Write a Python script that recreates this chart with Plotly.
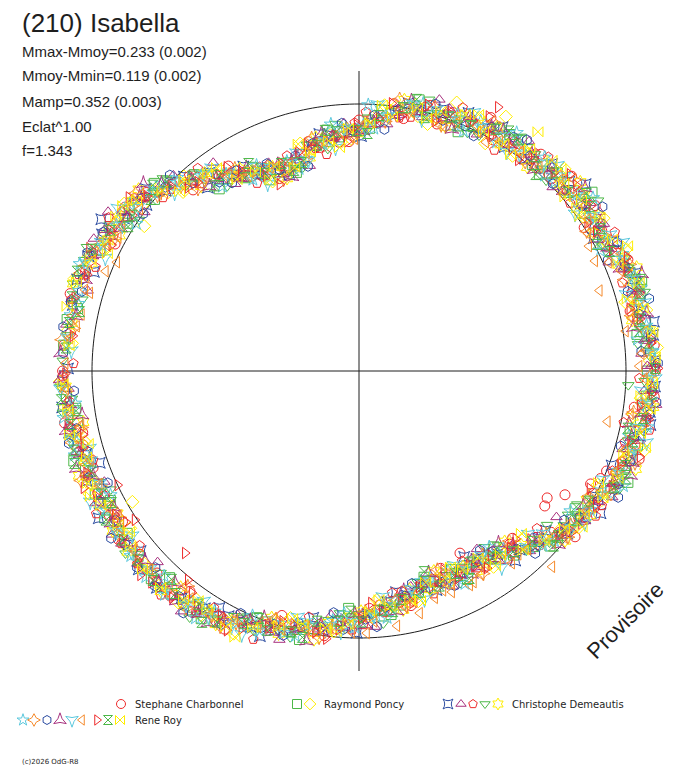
import plotly.graph_objects as go

# rotation phase (deg) and relative flux (1 = mean level, the thin circle)
# the *_b lists hold the further points of the same symbol

charbonnel_o_theta = [0, 10, 20, 30, 40, 50, 60, 70, 80, 90,
                      100, 110, 120, 130, 140, 150, 160, 170, 180, 190,
                      200, 210, 220, 230, 240, 250, 260, 270, 280, 290,
                      300, 310, 320, 330, 340, 350,
                      326, 329, 324, 299, 334, 336, 338, 311,
                      5, 15, 25, 35, 45, 55, 65, 75, 85, 95,
                      105, 115, 125, 135, 145, 155, 165, 175, 185, 195,
                      205, 215, 225, 235, 245, 255, 265, 275, 285, 295,
                      305, 315, 325, 335, 345, 355]
charbonnel_o_r = [1.11, 1.06, 1.08, 1.05, 1.04, 1.06, 1.00, 1.03, 0.96, 0.94,
                  0.85, 0.80, 0.86, 0.92, 1.04, 1.07, 1.09, 1.14, 1.11, 1.12,
                  1.06, 1.08, 1.07, 1.10, 1.06, 1.01, 0.99, 0.92, 0.88, 0.83,
                  0.84, 0.89, 0.94, 1.02, 1.05, 1.09,
                  0.85, 0.90, 0.86, 0.78, 0.965, 0.99, 1.00, 0.86,
                  1.11, 1.06, 1.06, 1.08, 1.02, 1.04, 1.01, 1.03, 0.96, 0.86,
                  0.84, 0.84, 0.88, 0.99, 1.07, 1.07, 1.12, 1.11, 1.14, 1.07,
                  1.08, 1.10, 1.07, 1.10, 1.04, 1.01, 0.97, 0.88, 0.85, 0.85,
                  0.84, 0.93, 0.97, 1.04, 1.07, 1.11]
charbonnel_o_theta_b = [2.5, 12.5, 22.5, 32.5, 42.5, 52.5, 62.5, 72.5, 82.5, 92.5,
                        102.5, 112.5, 122.5, 132.5, 142.5, 152.5, 162.5, 172.5, 182.5, 192.5,
                        202.5, 212.5, 222.5, 232.5, 242.5, 252.5, 262.5, 272.5, 282.5, 292.5,
                        302.5, 312.5, 322.5, 332.5, 342.5, 352.5]
charbonnel_o_r_b = [1.13, 1.04, 1.09, 1.00, 1.08, 1.00, 1.07, 0.97, 1.01, 0.86,
                    0.88, 0.78, 0.91, 0.92, 1.06, 1.03, 1.15, 1.09, 1.15, 1.06,
                    1.13, 1.05, 1.13, 1.04, 1.09, 0.96, 1.00, 0.89, 0.90, 0.80,
                    0.87, 0.85, 1.02, 0.99, 1.10, 1.04]

poncy_sq_theta = [5, 15, 25, 35, 45, 55, 65, 75, 85, 95,
                  105, 115, 125, 135, 145, 155, 165, 175, 185, 195,
                  205, 215, 225, 235, 245, 255, 265, 275, 285, 295,
                  305, 315, 325, 335, 345, 355,
                  0, 10, 20, 30, 40, 50, 60, 70, 80, 90,
                  100, 110, 120, 130, 140, 150, 160, 170, 180, 190,
                  200, 210, 220, 230, 240, 250, 260, 270, 280, 290,
                  300, 310, 320, 330, 340, 350]
poncy_sq_r = [1.08, 1.09, 1.06, 1.03, 1.05, 1.06, 1.01, 0.99, 0.98, 0.88,
              0.84, 0.79, 0.88, 1.00, 1.05, 1.07, 1.13, 1.11, 1.10, 1.09,
              1.09, 1.06, 1.10, 1.08, 1.03, 1.01, 0.94, 0.90, 0.86, 0.82,
              0.86, 0.93, 0.97, 1.04, 1.08, 1.08,
              1.08, 1.09, 1.08, 1.04, 1.05, 1.01, 1.05, 1.01, 1.00, 0.90,
              0.87, 0.81, 0.84, 0.96, 1.00, 1.08, 1.10, 1.11, 1.14, 1.07,
              1.09, 1.10, 1.08, 1.09, 1.08, 1.00, 0.98, 0.92, 0.89, 0.84,
              0.83, 0.90, 0.97, 0.99, 1.06, 1.07]
poncy_sq_theta_b = [7.5, 17.5, 27.5, 37.5, 47.5, 57.5, 67.5, 77.5, 87.5, 97.5,
                    107.5, 117.5, 127.5, 137.5, 147.5, 157.5, 167.5, 177.5, 187.5, 197.5,
                    207.5, 217.5, 227.5, 237.5, 247.5, 257.5, 267.5, 277.5, 287.5, 297.5,
                    307.5, 317.5, 327.5, 337.5, 347.5, 357.5]
poncy_sq_r_b = [1.05, 1.11, 1.03, 1.10, 1.00, 1.05, 0.97, 1.04, 0.91, 0.91,
                0.78, 0.86, 0.86, 1.04, 1.03, 1.14, 1.08, 1.15, 1.07, 1.12,
                1.05, 1.14, 1.05, 1.10, 1.00, 1.03, 0.89, 0.92, 0.81, 0.88,
                0.83, 0.97, 0.96, 1.09, 1.04, 1.13]

poncy_di_theta = [2, 12, 22, 32, 42, 52, 62, 72, 82, 92,
                  102, 112, 122, 132, 142, 152, 162, 172, 182, 192,
                  202, 212, 222, 232, 242, 252, 262, 272, 282, 292,
                  302, 312, 322, 332, 342, 352,
                  240, 210, 146, 61, 70, 60,
                  7, 17, 27, 37, 47, 57, 67, 77, 87, 97,
                  107, 117, 127, 137, 147, 157, 167, 177, 187, 197,
                  207, 217, 227, 237, 247, 257, 267, 277, 287, 297,
                  307, 317, 327, 337, 347, 357]
poncy_di_r = [1.09, 1.10, 1.05, 1.08, 1.02, 1.03, 1.03, 1.00, 1.00, 0.87,
              0.85, 0.81, 0.86, 0.98, 1.02, 1.08, 1.12, 1.10, 1.12, 1.07,
              1.08, 1.09, 1.08, 1.10, 1.06, 0.99, 0.97, 0.92, 0.87, 0.82,
              0.84, 0.90, 0.96, 1.03, 1.05, 1.09,
              1.13, 0.98, 0.97, 0.975, 1.07, 1.10,
              1.10, 1.09, 1.04, 1.05, 1.05, 1.01, 1.04, 0.98, 0.95, 0.89,
              0.81, 0.83, 0.93, 0.98, 1.07, 1.10, 1.10, 1.14, 1.11, 1.07,
              1.10, 1.07, 1.10, 1.09, 1.03, 0.99, 0.96, 0.88, 0.83, 0.85,
              0.88, 0.93, 0.99, 1.05, 1.05, 1.10]
poncy_di_theta_b = [4.5, 14.5, 24.5, 34.5, 44.5, 54.5, 64.5, 74.5, 84.5, 94.5,
                    104.5, 114.5, 124.5, 134.5, 144.5, 154.5, 164.5, 174.5, 184.5, 194.5,
                    204.5, 214.5, 224.5, 234.5, 244.5, 254.5, 264.5, 274.5, 284.5, 294.5,
                    304.5, 314.5, 324.5, 334.5, 344.5, 354.5]
poncy_di_r_b = [1.12, 1.03, 1.10, 1.02, 1.08, 0.99, 1.05, 0.96, 1.00, 0.86,
                0.88, 0.78, 0.91, 0.94, 1.08, 1.06, 1.16, 1.08, 1.15, 1.06,
                1.11, 1.04, 1.14, 1.05, 1.09, 0.96, 0.98, 0.86, 0.89, 0.81,
                0.89, 0.88, 1.01, 0.99, 1.11, 1.06]

demeautis_sqs_theta = [7, 17, 27, 37, 47, 57, 67, 77, 87, 97,
                       107, 117, 127, 137, 147, 157, 167, 177, 187, 197,
                       207, 217, 227, 237, 247, 257, 267, 277, 287, 297,
                       307, 317, 327, 337, 347, 357,
                       2, 12, 22, 32, 42, 52, 62, 72, 82, 92,
                       102, 112, 122, 132, 142, 152, 162, 172, 182, 192,
                       202, 212, 222, 232, 242, 252, 262, 272, 282, 292,
                       302, 312, 322, 332, 342, 352]
demeautis_sqs_r = [1.11, 1.07, 1.07, 1.04, 1.06, 1.00, 1.05, 1.00, 0.93, 0.89,
                   0.80, 0.84, 0.93, 0.99, 1.05, 1.10, 1.10, 1.13, 1.12, 1.07,
                   1.09, 1.08, 1.11, 1.06, 1.04, 0.98, 0.96, 0.87, 0.85, 0.85,
                   0.86, 0.92, 1.01, 1.05, 1.08, 1.11,
                   1.11, 1.08, 1.07, 1.04, 1.06, 1.01, 1.03, 1.03, 0.97, 0.90,
                   0.86, 0.80, 0.87, 0.98, 1.01, 1.09, 1.11, 1.14, 1.11, 1.11,
                   1.10, 1.07, 1.11, 1.08, 1.04, 1.02, 0.98, 0.91, 0.86, 0.86,
                   0.83, 0.90, 0.99, 1.00, 1.07, 1.10]
demeautis_sqs_theta_b = [9.5, 19.5, 29.5, 39.5, 49.5, 59.5, 69.5, 79.5, 89.5, 99.5,
                         109.5, 119.5, 129.5, 139.5, 149.5, 159.5, 169.5, 179.5, 189.5, 199.5,
                         209.5, 219.5, 229.5, 239.5, 249.5, 259.5, 269.5, 279.5, 289.5, 299.5,
                         309.5, 319.5, 329.5, 339.5, 349.5, 359.5]
demeautis_sqs_r_b = [1.12, 1.10, 1.01, 1.10, 1.01, 1.06, 0.98, 1.02, 0.88, 0.90,
                     0.78, 0.88, 0.89, 1.05, 1.12, 1.06, 1.15, 1.09, 1.14, 1.03,
                     1.12, 1.06, 1.14, 1.03, 1.06, 0.94, 0.98, 0.84, 0.87, 0.80,
                     0.92, 0.92, 1.05, 1.01, 1.11, 1.14]

demeautis_tru_theta = [1, 11, 21, 31, 41, 51, 61, 71, 81, 91,
                       101, 111, 121, 131, 141, 151, 161, 171, 181, 191,
                       201, 211, 221, 231, 241, 251, 261, 271, 281, 291,
                       301, 311, 321, 331, 341, 351,
                       147.6, 125,
                       6, 16, 26, 36, 46, 56, 66, 76, 86, 96,
                       106, 116, 126, 136, 146, 156, 166, 176, 186, 196,
                       206, 216, 226, 236, 246, 256, 266, 276, 286, 296,
                       306, 316, 326, 336, 346, 356]
demeautis_tru_r = [1.08, 1.09, 1.06, 1.07, 1.03, 1.01, 1.03, 1.04, 0.97, 0.91,
                   0.87, 0.79, 0.84, 0.96, 1.03, 1.09, 1.09, 1.11, 1.14, 1.10,
                   1.08, 1.06, 1.10, 1.09, 1.05, 1.02, 0.98, 0.91, 0.87, 0.85,
                   0.82, 0.88, 0.98, 1.00, 1.06, 1.09,
                   1.113, 0.952,
                   1.08, 1.08, 1.04, 1.07, 1.04, 1.02, 1.04, 0.98, 0.96, 0.88,
                   0.84, 0.81, 0.88, 1.00, 1.07, 1.07, 1.11, 1.13, 1.10, 1.10,
                   1.06, 1.10, 1.09, 1.09, 1.03, 1.00, 0.93, 0.91, 0.85, 0.83,
                   0.87, 0.90, 1.01, 1.04, 1.08, 1.07]
demeautis_tru_theta_b = [3.5, 13.5, 23.5, 33.5, 43.5, 53.5, 63.5, 73.5, 83.5, 93.5,
                         103.5, 113.5, 123.5, 133.5, 143.5, 153.5, 163.5, 173.5, 183.5, 193.5,
                         203.5, 213.5, 223.5, 233.5, 243.5, 253.5, 263.5, 273.5, 283.5, 293.5,
                         303.5, 313.5, 323.5, 333.5, 343.5, 353.5]
demeautis_tru_r_b = [1.06, 1.13, 1.02, 1.08, 1.00, 1.07, 0.99, 1.06, 0.93, 0.93,
                     0.79, 0.85, 0.84, 1.01, 1.00, 1.11, 1.06, 1.16, 1.09, 1.13,
                     1.04, 1.11, 1.04, 1.12, 1.02, 1.05, 0.92, 0.96, 0.83, 0.88,
                     0.80, 0.93, 0.92, 1.06, 1.03, 1.12]

demeautis_pen_theta = [6, 16, 26, 36, 46, 56, 66, 76, 86, 96,
                       106, 116, 126, 136, 146, 156, 166, 176, 186, 196,
                       206, 216, 226, 236, 246, 256, 266, 276, 286, 296,
                       306, 316, 326, 336, 346, 356,
                       349, 345,
                       1, 11, 21, 31, 41, 51, 61, 71, 81, 91,
                       101, 111, 121, 131, 141, 151, 161, 171, 181, 191,
                       201, 211, 221, 231, 241, 251, 261, 271, 281, 291,
                       301, 311, 321, 331, 341, 351]
demeautis_pen_r = [1.10, 1.06, 1.08, 1.05, 1.02, 1.04, 1.02, 1.02, 0.93, 0.89,
                   0.81, 0.85, 0.91, 0.98, 1.07, 1.09, 1.11, 1.14, 1.09, 1.09,
                   1.06, 1.10, 1.09, 1.09, 1.02, 1.00, 0.94, 0.91, 0.83, 0.84,
                   0.84, 0.94, 0.99, 1.05, 1.06, 1.10,
                   1.01, 1.03,
                   1.11, 1.06, 1.08, 1.05, 1.03, 1.05, 1.01, 1.02, 0.96, 0.93,
                   0.85, 0.82, 0.85, 0.97, 1.03, 1.05, 1.11, 1.14, 1.11, 1.10,
                   1.10, 1.07, 1.10, 1.06, 1.08, 1.02, 0.96, 0.95, 0.84, 0.85,
                   0.86, 0.87, 0.96, 1.04, 1.04, 1.09]
demeautis_pen_theta_b = [8.5, 18.5, 28.5, 38.5, 48.5, 58.5, 68.5, 78.5, 88.5, 98.5,
                         108.5, 118.5, 128.5, 138.5, 148.5, 158.5, 168.5, 178.5, 188.5, 198.5,
                         208.5, 218.5, 228.5, 238.5, 248.5, 258.5, 268.5, 278.5, 288.5, 298.5,
                         308.5, 318.5, 328.5, 338.5, 348.5, 358.5]
demeautis_pen_r_b = [1.14, 1.04, 1.09, 1.01, 1.07, 0.97, 1.06, 0.97, 0.97, 0.82,
                     0.85, 0.80, 0.97, 0.98, 1.10, 1.06, 1.15, 1.07, 1.15, 1.05,
                     1.12, 1.05, 1.12, 1.04, 1.08, 0.94, 0.97, 0.84, 0.88, 0.81,
                     0.90, 0.89, 1.04, 1.02, 1.11, 1.05]

demeautis_trd_theta = [3, 13, 23, 33, 43, 53, 63, 73, 83, 93,
                       103, 113, 123, 133, 143, 153, 163, 173, 183, 193,
                       203, 213, 223, 233, 243, 253, 263, 273, 283, 293,
                       303, 313, 323, 333, 343, 353,
                       357, 320.7,
                       8, 18, 28, 38, 48, 58, 68, 78, 88, 98,
                       108, 118, 128, 138, 148, 158, 168, 178, 188, 198,
                       208, 218, 228, 238, 248, 258, 268, 278, 288, 298,
                       308, 318, 328, 338, 348, 358]
demeautis_trd_r = [1.09, 1.06, 1.08, 1.04, 1.05, 1.05, 0.99, 1.01, 0.98, 0.89,
                   0.87, 0.79, 0.87, 0.95, 1.06, 1.07, 1.12, 1.10, 1.12, 1.11,
                   1.06, 1.08, 1.09, 1.10, 1.03, 1.02, 0.94, 0.91, 0.87, 0.83,
                   0.85, 0.92, 0.96, 1.02, 1.07, 1.07,
                   1.01, 0.91,
                   1.09, 1.09, 1.04, 1.06, 1.02, 1.04, 1.02, 0.99, 0.95, 0.84,
                   0.83, 0.83, 0.94, 1.01, 1.04, 1.11, 1.14, 1.11, 1.12, 1.08,
                   1.06, 1.11, 1.10, 1.06, 1.05, 0.98, 0.92, 0.89, 0.86, 0.83,
                   0.87, 0.96, 0.99, 1.06, 1.09, 1.07]
demeautis_trd_theta_b = [5.5, 15.5, 25.5, 35.5, 45.5, 55.5, 65.5, 75.5, 85.5, 95.5,
                         105.5, 115.5, 125.5, 135.5, 145.5, 155.5, 165.5, 175.5, 185.5, 195.5,
                         205.5, 215.5, 225.5, 235.5, 245.5, 255.5, 265.5, 275.5, 285.5, 295.5,
                         305.5, 315.5, 325.5, 335.5, 345.5, 355.5]
demeautis_trd_r_b = [1.05, 1.11, 1.03, 1.10, 1.00, 1.06, 0.98, 1.05, 0.93, 0.93,
                     0.79, 0.85, 0.85, 1.03, 1.00, 1.12, 1.07, 1.16, 1.08, 1.13,
                     1.03, 1.13, 1.06, 1.12, 1.01, 1.03, 0.91, 0.95, 0.82, 0.88,
                     0.81, 0.94, 0.95, 1.07, 1.04, 1.13]

demeautis_hex_theta = [8, 18, 28, 38, 48, 58, 68, 78, 88, 98,
                       108, 118, 128, 138, 148, 158, 168, 178, 188, 198,
                       208, 218, 228, 238, 248, 258, 268, 278, 288, 298,
                       308, 318, 328, 338, 348, 358,
                       3, 13, 23, 33, 43, 53, 63, 73, 83, 93,
                       103, 113, 123, 133, 143, 153, 163, 173, 183, 193,
                       203, 213, 223, 233, 243, 253, 263, 273, 283, 293,
                       303, 313, 323, 333, 343, 353]
demeautis_hex_r = [1.10, 1.08, 1.04, 1.07, 1.04, 1.00, 1.03, 1.02, 0.92, 0.86,
                   0.80, 0.85, 0.94, 1.02, 1.06, 1.08, 1.13, 1.13, 1.10, 1.08,
                   1.06, 1.10, 1.11, 1.06, 1.04, 0.98, 0.92, 0.89, 0.86, 0.83,
                   0.86, 0.94, 1.02, 1.04, 1.06, 1.10,
                   1.11, 1.07, 1.07, 1.07, 1.03, 1.03, 1.04, 0.99, 0.98, 0.91,
                   0.82, 0.83, 0.87, 0.96, 1.06, 1.07, 1.12, 1.14, 1.10, 1.09,
                   1.09, 1.10, 1.08, 1.09, 1.05, 1.03, 0.95, 0.92, 0.84, 0.86,
                   0.85, 0.89, 0.99, 1.02, 1.05, 1.11]
demeautis_hex_theta_b = [0.5, 10.5, 20.5, 30.5, 40.5, 50.5, 60.5, 70.5, 80.5, 90.5,
                         100.5, 110.5, 120.5, 130.5, 140.5, 150.5, 160.5, 170.5, 180.5, 190.5,
                         200.5, 210.5, 220.5, 230.5, 240.5, 250.5, 260.5, 270.5, 280.5, 290.5,
                         300.5, 310.5, 320.5, 330.5, 340.5, 350.5]
demeautis_hex_r_b = [1.13, 1.04, 1.11, 1.02, 1.09, 0.99, 1.05, 0.97, 1.03, 0.89,
                     0.89, 0.77, 0.88, 0.91, 1.07, 1.03, 1.14, 1.09, 1.15, 1.05,
                     1.12, 1.05, 1.13, 1.05, 1.09, 0.98, 1.02, 0.90, 0.91, 0.80,
                     0.87, 0.84, 1.00, 0.98, 1.10, 1.04]

roy_star_theta = [4, 14, 24, 34, 44, 54, 64, 74, 84, 94,
                  104, 114, 124, 134, 144, 154, 164, 174, 184, 194,
                  204, 214, 224, 234, 244, 254, 264, 274, 284, 294,
                  304, 314, 324, 334, 344, 354,
                  88, 180.5,
                  9, 19, 29, 39, 49, 59, 69, 79, 89, 99,
                  109, 119, 129, 139, 149, 159, 169, 179, 189, 199,
                  209, 219, 229, 239, 249, 259, 269, 279, 289, 299,
                  309, 319, 329, 339, 349, 359]
roy_star_r = [1.10, 1.08, 1.08, 1.04, 1.02, 1.04, 1.04, 1.00, 0.96, 0.91,
              0.82, 0.83, 0.89, 0.98, 1.06, 1.07, 1.09, 1.13, 1.13, 1.09,
              1.06, 1.09, 1.11, 1.07, 1.05, 1.02, 0.94, 0.92, 0.86, 0.82,
              0.85, 0.92, 0.98, 1.05, 1.06, 1.09,
              0.997, 1.19,
              1.09, 1.09, 1.04, 1.05, 1.06, 1.00, 1.03, 1.01, 0.92, 0.86,
              0.83, 0.82, 0.94, 1.02, 1.06, 1.12, 1.10, 1.13, 1.12, 1.07,
              1.08, 1.10, 1.11, 1.05, 1.04, 0.97, 0.96, 0.87, 0.82, 0.85,
              0.86, 0.97, 1.01, 1.04, 1.10, 1.09]
roy_star_theta_b = [6.5, 16.5, 26.5, 36.5, 46.5, 56.5, 66.5, 76.5, 86.5, 96.5,
                    106.5, 116.5, 126.5, 136.5, 146.5, 156.5, 166.5, 176.5, 186.5, 196.5,
                    206.5, 216.5, 226.5, 236.5, 246.5, 256.5, 266.5, 276.5, 286.5, 296.5,
                    306.5, 316.5, 326.5, 336.5, 346.5, 356.5]
roy_star_r_b = [1.05, 1.10, 1.01, 1.09, 1.01, 1.07, 0.98, 1.03, 0.91, 0.93,
                0.79, 0.86, 0.86, 1.02, 1.00, 1.13, 1.08, 1.16, 1.07, 1.11,
                1.04, 1.14, 1.06, 1.11, 1.00, 1.02, 0.91, 0.93, 0.82, 0.89,
                0.82, 0.95, 0.95, 1.08, 1.04, 1.13]

roy_sdi_theta = [9, 19, 29, 39, 49, 59, 69, 79, 89, 99,
                 109, 119, 129, 139, 149, 159, 169, 179, 189, 199,
                 209, 219, 229, 239, 249, 259, 269, 279, 289, 299,
                 309, 319, 329, 339, 349, 359,
                 4, 14, 24, 34, 44, 54, 64, 74, 84, 94,
                 104, 114, 124, 134, 144, 154, 164, 174, 184, 194,
                 204, 214, 224, 234, 244, 254, 264, 274, 284, 294,
                 304, 314, 324, 334, 344, 354]
roy_sdi_r = [1.07, 1.05, 1.05, 1.06, 1.01, 1.03, 1.00, 0.99, 0.91, 0.88,
             0.80, 0.84, 0.92, 1.00, 1.07, 1.10, 1.09, 1.13, 1.09, 1.08,
             1.06, 1.07, 1.09, 1.07, 1.01, 0.98, 0.93, 0.87, 0.83, 0.84,
             0.87, 0.93, 1.01, 1.04, 1.08, 1.09,
             1.08, 1.08, 1.08, 1.03, 1.05, 1.02, 1.02, 1.03, 0.94, 0.90,
             0.82, 0.84, 0.88, 0.96, 1.05, 1.08, 1.13, 1.12, 1.10, 1.11,
             1.06, 1.09, 1.08, 1.10, 1.05, 0.98, 0.96, 0.90, 0.87, 0.84,
             0.83, 0.92, 0.98, 1.05, 1.05, 1.09]
roy_sdi_theta_b = [1.5, 11.5, 21.5, 31.5, 41.5, 51.5, 61.5, 71.5, 81.5, 91.5,
                   101.5, 111.5, 121.5, 131.5, 141.5, 151.5, 161.5, 171.5, 181.5, 191.5,
                   201.5, 211.5, 221.5, 231.5, 241.5, 251.5, 261.5, 271.5, 281.5, 291.5,
                   301.5, 311.5, 321.5, 331.5, 341.5, 351.5]
roy_sdi_r_b = [1.14, 1.04, 1.09, 1.00, 1.08, 1.00, 1.06, 0.97, 1.03, 0.88,
               0.89, 0.77, 0.89, 0.91, 1.07, 1.04, 1.15, 1.08, 1.15, 1.06,
               1.12, 1.05, 1.13, 1.03, 1.09, 0.98, 1.01, 0.90, 0.90, 0.80,
               0.89, 0.85, 1.00, 0.98, 1.09, 1.04]

roy_hex_theta = [1.5, 11.5, 21.5, 31.5, 41.5, 51.5, 61.5, 71.5, 81.5, 91.5,
                 101.5, 111.5, 121.5, 131.5, 141.5, 151.5, 161.5, 171.5, 181.5, 191.5,
                 201.5, 211.5, 221.5, 231.5, 241.5, 251.5, 261.5, 271.5, 281.5, 291.5,
                 301.5, 311.5, 321.5, 331.5, 341.5, 351.5,
                 6.5, 16.5, 26.5, 36.5, 46.5, 56.5, 66.5, 76.5, 86.5, 96.5,
                 106.5, 116.5, 126.5, 136.5, 146.5, 156.5, 166.5, 176.5, 186.5, 196.5,
                 206.5, 216.5, 226.5, 236.5, 246.5, 256.5, 266.5, 276.5, 286.5, 296.5,
                 306.5, 316.5, 326.5, 336.5, 346.5, 356.5]
roy_hex_r = [1.12, 1.07, 1.07, 1.06, 1.02, 1.03, 1.04, 0.99, 0.99, 0.90,
             0.87, 0.81, 0.88, 0.94, 1.04, 1.09, 1.09, 1.12, 1.14, 1.08,
             1.09, 1.07, 1.11, 1.08, 1.08, 1.00, 0.97, 0.93, 0.86, 0.85,
             0.84, 0.89, 0.97, 1.02, 1.07, 1.10,
             1.10, 1.05, 1.08, 1.04, 1.05, 1.05, 1.00, 1.00, 0.96, 0.87,
             0.84, 0.82, 0.88, 1.00, 1.04, 1.11, 1.11, 1.11, 1.13, 1.06,
             1.09, 1.09, 1.11, 1.06, 1.05, 0.97, 0.97, 0.89, 0.84, 0.85,
             0.84, 0.93, 0.99, 1.06, 1.06, 1.10]
roy_hex_theta_b = [4, 14, 24, 34, 44, 54, 64, 74, 84, 94,
                   104, 114, 124, 134, 144, 154, 164, 174, 184, 194,
                   204, 214, 224, 234, 244, 254, 264, 274, 284, 294,
                   304, 314, 324, 334, 344, 354]
roy_hex_r_b = [1.06, 1.12, 1.02, 1.10, 1.01, 1.07, 0.98, 1.04, 0.91, 0.93,
               0.79, 0.85, 0.85, 1.02, 1.00, 1.14, 1.08, 1.16, 1.07, 1.12,
               1.03, 1.12, 1.06, 1.12, 1.01, 1.03, 0.91, 0.96, 0.82, 0.88,
               0.81, 0.95, 0.95, 1.08, 1.02, 1.12]

roy_stu_theta = [6.5, 16.5, 26.5, 36.5, 46.5, 56.5, 66.5, 76.5, 86.5, 96.5,
                 106.5, 116.5, 126.5, 136.5, 146.5, 156.5, 166.5, 176.5, 186.5, 196.5,
                 206.5, 216.5, 226.5, 236.5, 246.5, 256.5, 266.5, 276.5, 286.5, 296.5,
                 306.5, 316.5, 326.5, 336.5, 346.5, 356.5,
                 1.5, 11.5, 21.5, 31.5, 41.5, 51.5, 61.5, 71.5, 81.5, 91.5,
                 101.5, 111.5, 121.5, 131.5, 141.5, 151.5, 161.5, 171.5, 181.5, 191.5,
                 201.5, 211.5, 221.5, 231.5, 241.5, 251.5, 261.5, 271.5, 281.5, 291.5,
                 301.5, 311.5, 321.5, 331.5, 341.5, 351.5]
roy_stu_r = [1.08, 1.09, 1.04, 1.05, 1.05, 1.02, 1.04, 1.00, 0.93, 0.88,
             0.84, 0.82, 0.90, 1.02, 1.04, 1.09, 1.13, 1.12, 1.09, 1.09,
             1.10, 1.08, 1.09, 1.09, 1.02, 0.99, 0.96, 0.88, 0.83, 0.85,
             0.88, 0.92, 1.01, 1.04, 1.05, 1.10,
             1.10, 1.10, 1.05, 1.06, 1.02, 1.04, 1.04, 1.00, 0.98, 0.89,
             0.86, 0.83, 0.85, 0.95, 1.05, 1.06, 1.08, 1.13, 1.12, 1.12,
             1.07, 1.09, 1.07, 1.10, 1.06, 1.03, 0.96, 0.95, 0.84, 0.84,
             0.86, 0.87, 0.97, 1.02, 1.08, 1.07]
roy_stu_theta_b = [9, 19, 29, 39, 49, 59, 69, 79, 89, 99,
                   109, 119, 129, 139, 149, 159, 169, 179, 189, 199,
                   209, 219, 229, 239, 249, 259, 269, 279, 289, 299,
                   309, 319, 329, 339, 349, 359]
roy_stu_r_b = [1.04, 1.12, 1.02, 1.09, 1.00, 1.05, 0.97, 1.03, 0.90, 0.90,
               0.77, 0.87, 0.89, 1.07, 1.04, 1.14, 1.08, 1.15, 1.05, 1.12,
               1.05, 1.13, 1.05, 1.10, 0.99, 1.03, 0.91, 0.91, 0.80, 0.87,
               0.83, 0.99, 0.98, 1.09, 1.03, 1.13]

roy_std_theta = [3.5, 13.5, 23.5, 33.5, 43.5, 53.5, 63.5, 73.5, 83.5, 93.5,
                 103.5, 113.5, 123.5, 133.5, 143.5, 153.5, 163.5, 173.5, 183.5, 193.5,
                 203.5, 213.5, 223.5, 233.5, 243.5, 253.5, 263.5, 273.5, 283.5, 293.5,
                 303.5, 313.5, 323.5, 333.5, 343.5, 353.5,
                 8.5, 18.5, 28.5, 38.5, 48.5, 58.5, 68.5, 78.5, 88.5, 98.5,
                 108.5, 118.5, 128.5, 138.5, 148.5, 158.5, 168.5, 178.5, 188.5, 198.5,
                 208.5, 218.5, 228.5, 238.5, 248.5, 258.5, 268.5, 278.5, 288.5, 298.5,
                 308.5, 318.5, 328.5, 338.5, 348.5, 358.5]
roy_std_r = [1.10, 1.10, 1.05, 1.05, 1.06, 1.01, 1.02, 1.02, 0.96, 0.91,
             0.81, 0.83, 0.89, 0.99, 1.03, 1.08, 1.13, 1.10, 1.12, 1.11,
             1.06, 1.09, 1.08, 1.09, 1.07, 0.99, 0.96, 0.92, 0.84, 0.86,
             0.83, 0.91, 0.99, 1.01, 1.08, 1.07,
             1.08, 1.08, 1.07, 1.03, 1.04, 1.03, 1.01, 1.02, 0.91, 0.87,
             0.82, 0.83, 0.94, 1.02, 1.04, 1.10, 1.13, 1.14, 1.10, 1.06,
             1.10, 1.09, 1.08, 1.08, 1.05, 0.96, 0.94, 0.89, 0.83, 0.85,
             0.88, 0.92, 1.01, 1.05, 1.06, 1.11]
roy_std_theta_b = [6, 16, 26, 36, 46, 56, 66, 76, 86, 96,
                   106, 116, 126, 136, 146, 156, 166, 176, 186, 196,
                   206, 216, 226, 236, 246, 256, 266, 276, 286, 296,
                   306, 316, 326, 336, 346, 356]
roy_std_r_b = [1.13, 1.04, 1.10, 1.00, 1.07, 0.99, 1.06, 0.97, 1.00, 0.84,
               0.85, 0.78, 0.94, 0.96, 1.09, 1.04, 1.14, 1.08, 1.15, 1.05,
               1.12, 1.05, 1.14, 1.04, 1.08, 0.95, 0.98, 0.85, 0.89, 0.81,
               0.91, 0.88, 1.02, 1.00, 1.11, 1.06]

roy_trl_theta = [8.5, 18.5, 28.5, 38.5, 48.5, 58.5, 68.5, 78.5, 88.5, 98.5,
                 108.5, 118.5, 128.5, 138.5, 148.5, 158.5, 168.5, 178.5, 188.5, 198.5,
                 208.5, 218.5, 228.5, 238.5, 248.5, 258.5, 268.5, 278.5, 288.5, 298.5,
                 308.5, 318.5, 328.5, 338.5, 348.5, 358.5,
                 155.8, 163.8, 284.1, 292.8, 297.4, 314.6, 271.7, 25,
                 3.5, 13.5, 23.5, 33.5, 43.5, 53.5, 63.5, 73.5, 83.5, 93.5,
                 103.5, 113.5, 123.5, 133.5, 143.5, 153.5, 163.5, 173.5, 183.5, 193.5,
                 203.5, 213.5, 223.5, 233.5, 243.5, 253.5, 263.5, 273.5, 283.5, 293.5,
                 303.5, 313.5, 323.5, 333.5, 343.5, 353.5]
roy_trl_r = [1.01, 0.95, 0.98, 1.03, 1.02, 1.01, 1.00, 0.99, 0.93, 0.87,
             0.82, 0.85, 0.93, 1.00, 1.04, 1.02, 1.06, 1.10, 1.09, 1.06,
             1.07, 1.08, 1.07, 1.07, 1.03, 0.99, 0.98, 0.965, 0.896, 0.90,
             0.92, 0.97, 1.00, 1.03, 0.95, 1.07,
             0.994, 1.049, 0.935, 0.898, 0.903, 1.03, 0.982, 0.975,
             1.06, 1.05, 1.02, 1.03, 1.04, 1.02, 1.00, 0.99, 0.95, 0.89,
             0.84, 0.83, 0.88, 0.96, 1.02, 1.05, 1.07, 1.09, 1.10, 1.08,
             1.06, 1.07, 1.08, 1.06, 1.04, 1.01, 0.97, 0.94, 0.89, 0.87,
             0.87, 0.92, 0.97, 1.01, 1.04, 1.06]
roy_trl_theta_b = [1, 11, 21, 31, 41, 51, 61, 71, 81, 91,
                   101, 111, 121, 131, 141, 151, 161, 171, 181, 191,
                   201, 211, 221, 231, 241, 251, 261, 271, 281, 291,
                   301, 311, 321, 331, 341, 351]
roy_trl_r_b = [1.05, 1.04, 1.05, 1.00, 1.01, 1.04, 0.98, 0.97, 0.99, 0.87,
               0.86, 0.83, 0.86, 0.93, 1.05, 1.03, 1.08, 1.07, 1.10, 1.06,
               1.09, 1.05, 1.10, 1.04, 1.06, 0.98, 0.99, 0.92, 0.90, 0.88,
               0.89, 0.91, 0.99, 0.98, 1.04, 1.03]

roy_trr_theta = [0.5, 10.5, 20.5, 30.5, 40.5, 50.5, 60.5, 70.5, 80.5, 90.5,
                 100.5, 110.5, 120.5, 130.5, 140.5, 150.5, 160.5, 170.5, 180.5, 190.5,
                 200.5, 210.5, 220.5, 230.5, 240.5, 250.5, 260.5, 270.5, 280.5, 290.5,
                 300.5, 310.5, 320.5, 330.5, 340.5, 350.5,
                 226.3, 230.7, 209.3, 205.3, 213.6, 62.2, 44.6,
                 5.5, 15.5, 25.5, 35.5, 45.5, 55.5, 65.5, 75.5, 85.5, 95.5,
                 105.5, 115.5, 125.5, 135.5, 145.5, 155.5, 165.5, 175.5, 185.5, 195.5,
                 205.5, 215.5, 225.5, 235.5, 245.5, 255.5, 265.5, 275.5, 285.5, 295.5,
                 305.5, 315.5, 325.5, 335.5, 345.5, 355.5]
roy_trr_r = [1.12, 1.07, 1.07, 1.03, 1.07, 1.03, 1.01, 1.03, 0.97, 0.92,
             0.85, 0.83, 0.87, 0.93, 1.03, 1.07, 1.08, 1.14, 1.10, 1.11,
             1.09, 1.06, 1.09, 1.10, 1.05, 1.02, 0.99, 0.93, 0.87, 0.84,
             0.85, 0.87, 0.97, 1.02, 1.04, 1.10,
             0.943, 1.011, 1.125, 1.0, 1.008, 1.117, 1.136,
             1.10, 1.09, 1.05, 1.07, 1.04, 1.01, 1.03, 1.03, 0.95, 0.88,
             0.85, 0.81, 0.90, 0.99, 1.03, 1.11, 1.10, 1.13, 1.13, 1.07,
             1.09, 1.09, 1.11, 1.07, 1.06, 0.98, 0.97, 0.90, 0.84, 0.86,
             0.85, 0.90, 1.01, 1.04, 1.05, 1.10]
roy_trr_theta_b = [3, 13, 23, 33, 43, 53, 63, 73, 83, 93,
                   103, 113, 123, 133, 143, 153, 163, 173, 183, 193,
                   203, 213, 223, 233, 243, 253, 263, 273, 283, 293,
                   303, 313, 323, 333, 343, 353]
roy_trr_r_b = [1.14, 1.04, 1.09, 1.02, 1.08, 0.99, 1.07, 0.98, 1.01, 0.86,
               0.87, 0.76, 0.91, 0.94, 1.08, 1.04, 1.14, 1.08, 1.17, 1.06,
               1.12, 1.04, 1.12, 1.04, 1.09, 0.98, 1.01, 0.87, 0.89, 0.81,
               0.88, 0.86, 1.00, 0.97, 1.10, 1.06]

roy_hg_theta = [5.5, 15.5, 25.5, 35.5, 45.5, 55.5, 65.5, 75.5, 85.5, 95.5,
                105.5, 115.5, 125.5, 135.5, 145.5, 155.5, 165.5, 175.5, 185.5, 195.5,
                205.5, 215.5, 225.5, 235.5, 245.5, 255.5, 265.5, 275.5, 285.5, 295.5,
                305.5, 315.5, 325.5, 335.5, 345.5, 355.5,
                0.5, 10.5, 20.5, 30.5, 40.5, 50.5, 60.5, 70.5, 80.5, 90.5,
                100.5, 110.5, 120.5, 130.5, 140.5, 150.5, 160.5, 170.5, 180.5, 190.5,
                200.5, 210.5, 220.5, 230.5, 240.5, 250.5, 260.5, 270.5, 280.5, 290.5,
                300.5, 310.5, 320.5, 330.5, 340.5, 350.5]
roy_hg_r = [1.09, 1.09, 1.04, 1.06, 1.04, 1.05, 1.01, 0.98, 0.96, 0.90,
            0.81, 0.82, 0.90, 1.01, 1.03, 1.10, 1.11, 1.10, 1.12, 1.11,
            1.07, 1.09, 1.10, 1.06, 1.04, 1.01, 0.94, 0.90, 0.86, 0.84,
            0.86, 0.91, 0.99, 1.05, 1.06, 1.10,
            1.11, 1.07, 1.08, 1.05, 1.03, 1.04, 1.04, 1.01, 1.00, 0.90,
            0.86, 0.83, 0.84, 0.96, 1.01, 1.07, 1.12, 1.10, 1.13, 1.10,
            1.07, 1.10, 1.09, 1.08, 1.08, 1.03, 0.95, 0.94, 0.87, 0.86,
            0.83, 0.89, 0.97, 0.99, 1.06, 1.08]
roy_hg_theta_b = [8, 18, 28, 38, 48, 58, 68, 78, 88, 98,
                  108, 118, 128, 138, 148, 158, 168, 178, 188, 198,
                  208, 218, 228, 238, 248, 258, 268, 278, 288, 298,
                  308, 318, 328, 338, 348, 358]
roy_hg_r_b = [1.06, 1.11, 1.01, 1.08, 0.99, 1.06, 0.99, 1.04, 0.89, 0.91,
              0.79, 0.88, 0.88, 1.04, 1.02, 1.14, 1.07, 1.15, 1.07, 1.12,
              1.05, 1.14, 1.05, 1.11, 1.00, 1.02, 0.90, 0.91, 0.79, 0.88,
              0.84, 0.98, 0.96, 1.08, 1.03, 1.14]

roy_bt_theta = [7.5, 17.5, 27.5, 37.5, 47.5, 57.5, 67.5, 77.5, 87.5, 97.5,
                107.5, 117.5, 127.5, 137.5, 147.5, 157.5, 167.5, 177.5, 187.5, 197.5,
                207.5, 217.5, 227.5, 237.5, 247.5, 257.5, 267.5, 277.5, 287.5, 297.5,
                307.5, 317.5, 327.5, 337.5, 347.5, 357.5,
                53.2, 50.5, 40.2, 36.8, 39,
                2.5, 12.5, 22.5, 32.5, 42.5, 52.5, 62.5, 72.5, 82.5, 92.5,
                102.5, 112.5, 122.5, 132.5, 142.5, 152.5, 162.5, 172.5, 182.5, 192.5,
                202.5, 212.5, 222.5, 232.5, 242.5, 252.5, 262.5, 272.5, 282.5, 292.5,
                302.5, 312.5, 322.5, 332.5, 342.5, 352.5]
roy_bt_r = [1.11, 1.10, 1.07, 1.05, 1.07, 1.01, 1.04, 1.01, 0.93, 0.87,
            0.80, 0.84, 0.93, 1.00, 1.08, 1.09, 1.12, 1.13, 1.10, 1.07,
            1.09, 1.08, 1.10, 1.06, 1.04, 0.97, 0.95, 0.89, 0.83, 0.84,
            0.87, 0.94, 1.00, 1.05, 1.08, 1.10,
            1.119, 1.155, 1.01, 1.019, 1.138,
            1.11, 1.09, 1.05, 1.07, 1.04, 1.05, 1.01, 1.02, 0.96, 0.91,
            0.84, 0.83, 0.85, 0.97, 1.05, 1.06, 1.11, 1.14, 1.11, 1.11,
            1.10, 1.07, 1.10, 1.08, 1.08, 1.00, 0.97, 0.90, 0.88, 0.84,
            0.83, 0.91, 0.97, 1.03, 1.04, 1.10]
roy_bt_theta_b = [5, 15, 25, 35, 45, 55, 65, 75, 85, 95,
                  105, 115, 125, 135, 145, 155, 165, 175, 185, 195,
                  205, 215, 225, 235, 245, 255, 265, 275, 285, 295,
                  305, 315, 325, 335, 345, 355]
roy_bt_r_b = [1.13, 1.04, 1.11, 1.01, 1.07, 0.99, 1.06, 0.98, 1.00, 0.84,
              0.88, 0.79, 0.93, 0.95, 1.08, 1.04, 1.15, 1.09, 1.15, 1.05,
              1.11, 1.05, 1.13, 1.05, 1.10, 0.96, 0.98, 0.86, 0.89, 0.81,
              0.89, 0.86, 1.02, 0.99, 1.11, 1.06]

title = "(210) Isabella"
info_lines = ["Mmax-Mmoy=0.233 (0.002)", "Mmoy-Mmin=0.119 (0.002)",
              "Mamp=0.352 (0.003)", "Eclat^1.00", "f=1.343"]
observers = ["Stephane Charbonnel", "Raymond Poncy", "Christophe Demeautis", "Rene Roy"]

RED = "#EE2B2B"
GREEN = "#4DB848"
YELLOW = "#FFEE00"
BLUE = "#2B4BA0"
MAGENTA = "#A8327F"
CYAN = "#5CC8DD"
ORANGE = "#F58A2C"
INK = "#1e1e1e"

W, H = 688, 768
OFF = 8                    # the page body margin shifts everything by 8 px
CX, CY = 359 - OFF, 371 - OFF   # centre of the polar plot, px
R_PX = 300                 # length of the axis cross, px
R_CIRCLE = 267             # radius of the unit circle, px
r_max = R_PX / R_CIRCLE


def px(x):
    return (x - OFF) / W


def py(y):
    return 1 - (y - OFF) / H


series = [
    (0, charbonnel_o_theta + charbonnel_o_theta_b, charbonnel_o_r + charbonnel_o_r_b, "circle-open", RED),
    (1, poncy_sq_theta + poncy_sq_theta_b, poncy_sq_r + poncy_sq_r_b, "square-open", GREEN),
    (1, poncy_di_theta + poncy_di_theta_b, poncy_di_r + poncy_di_r_b, "diamond-open", YELLOW),
    (2, demeautis_sqs_theta + demeautis_sqs_theta_b, demeautis_sqs_r + demeautis_sqs_r_b, "star-square-open", BLUE),
    (2, demeautis_tru_theta + demeautis_tru_theta_b, demeautis_tru_r + demeautis_tru_r_b, "triangle-up-open", MAGENTA),
    (2, demeautis_pen_theta + demeautis_pen_theta_b, demeautis_pen_r + demeautis_pen_r_b, "pentagon-open", RED),
    (2, demeautis_trd_theta + demeautis_trd_theta_b, demeautis_trd_r + demeautis_trd_r_b, "triangle-down-open", GREEN),
    (2, demeautis_hex_theta + demeautis_hex_theta_b, demeautis_hex_r + demeautis_hex_r_b, "hexagram-open", YELLOW),
    (3, roy_star_theta + roy_star_theta_b, roy_star_r + roy_star_r_b, "star-open", CYAN),
    (3, roy_sdi_theta + roy_sdi_theta_b, roy_sdi_r + roy_sdi_r_b, "star-diamond-open", ORANGE),
    (3, roy_hex_theta + roy_hex_theta_b, roy_hex_r + roy_hex_r_b, "hexagon-open", BLUE),
    (3, roy_stu_theta + roy_stu_theta_b, roy_stu_r + roy_stu_r_b, "star-triangle-up-open", MAGENTA),
    (3, roy_std_theta + roy_std_theta_b, roy_std_r + roy_std_r_b, "star-triangle-down-open", CYAN),
    (3, roy_trl_theta + roy_trl_theta_b, roy_trl_r + roy_trl_r_b, "triangle-left-open", ORANGE),
    (3, roy_trr_theta + roy_trr_theta_b, roy_trr_r + roy_trr_r_b, "triangle-right-open", RED),
    (3, roy_hg_theta + roy_hg_theta_b, roy_hg_r + roy_hg_r_b, "hourglass-open", GREEN),
    (3, roy_bt_theta + roy_bt_theta_b, roy_bt_r + roy_bt_r_b, "bowtie-open", YELLOW),
]

fig = go.Figure()

# unit circle (mean brightness)
circle_theta = list(range(0, 361))
fig.add_trace(go.Scatterpolar(
    r=[1.0] * len(circle_theta), theta=circle_theta, mode="lines",
    line=dict(color=INK, width=1), hoverinfo="skip", showlegend=False,
))

for obs, th, rr, sym, col in series:
    fig.add_trace(go.Scatterpolar(
        r=rr, theta=th, mode="markers", name=observers[obs], showlegend=False,
        cliponaxis=False,
        marker=dict(symbol=sym, size=10, color=col, line=dict(width=1, color=col)),
    ))

# hand made legend under the plot, on a hidden pixel axis (page px)
legend_x = {0: [121], 1: [297, 310], 2: [448, 461, 473, 485, 498],
            3: [23, 34, 47, 60, 72, 82, 97, 108, 120]}
legend_text_x = {0: 133, 1: 322, 2: 510, 3: 133}
legend_y = {0: 704, 1: 704, 2: 704, 3: 720}
count = {0: 0, 1: 0, 2: 0, 3: 0}
for obs, th, rr, sym, col in series:
    i = count[obs]
    count[obs] += 1
    fig.add_trace(go.Scatter(
        x=[legend_x[obs][i]], y=[legend_y[obs]], mode="markers",
        xaxis="x", yaxis="y", showlegend=False, hoverinfo="skip",
        marker=dict(symbol=sym, size=9, color=col, line=dict(width=1, color=col)),
    ))

annotations = []
for obs, name in enumerate(observers):
    annotations.append(dict(
        x=legend_text_x[obs], y=legend_y[obs], xref="x", yref="y",
        text=name, showarrow=False, xanchor="left", yanchor="middle",
        font=dict(family="DejaVu Sans", size=10, color=INK),
    ))

annotations.append(dict(
    x=px(20), y=py(23), xref="paper", yref="paper", text=title,
    showarrow=False, xanchor="left", yanchor="middle",
    font=dict(family="Liberation Sans, Arial", size=26, color=INK),
))
for k, line in enumerate(info_lines):
    annotations.append(dict(
        x=px(20), y=py(51 + 25 * k), xref="paper", yref="paper", text=line,
        showarrow=False, xanchor="left", yanchor="middle",
        font=dict(family="Liberation Sans, Arial", size=15, color=INK),
    ))
annotations.append(dict(
    x=px(625), y=py(620), xref="paper", yref="paper", text="Provisoire",
    showarrow=False, textangle=-45, xanchor="center", yanchor="middle",
    font=dict(family="Liberation Sans, Arial", size=22, color=INK),
))
annotations.append(dict(
    x=px(20), y=py(762), xref="paper", yref="paper", text="(c)2026 OdG-R8",
    showarrow=False, xanchor="left", yanchor="middle",
    font=dict(family="DejaVu Sans", size=7, color=INK),
))

fig.update_layout(
    width=W, height=H, margin=dict(l=0, r=0, t=0, b=0),
    paper_bgcolor="white", plot_bgcolor="rgba(0,0,0,0)",
    annotations=annotations,
    polar=dict(
        domain=dict(x=[(CX - R_PX) / W, (CX + R_PX) / W],
                    y=[1 - (CY + R_PX) / H, 1 - (CY - R_PX) / H]),
        bgcolor="white",
        radialaxis=dict(range=[0, r_max], showgrid=False, showline=False,
                        showticklabels=False, ticks=""),
        angularaxis=dict(rotation=0, direction="counterclockwise",
                         tickmode="array", tickvals=[0, 90, 180, 270],
                         showgrid=True, gridcolor=INK, gridwidth=1,
                         showline=False, showticklabels=False, ticks="",
                         layer="below traces"),
    ),
    # pixel axis for the legend: page rows 678..768, shifted by the margin
    xaxis=dict(domain=[0, 1], range=[OFF, W + OFF], visible=False, fixedrange=True),
    yaxis=dict(domain=[0, 90 / H], range=[H + OFF, H + OFF - 90],
               visible=False, fixedrange=True),
)

fig.write_html("out.html")
